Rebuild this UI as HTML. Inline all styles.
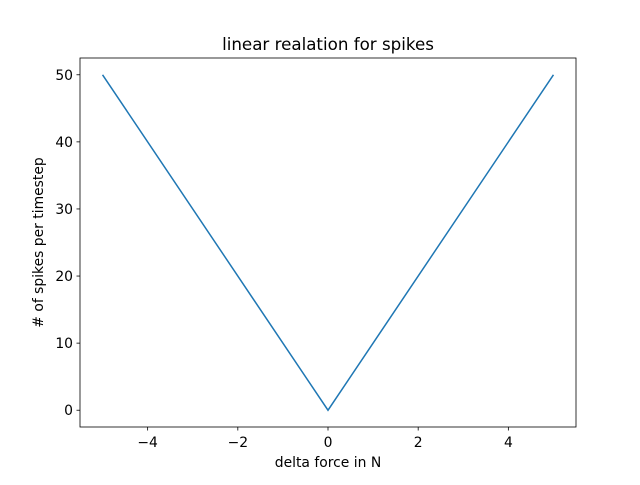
<!DOCTYPE html>
<html><head><meta charset="utf-8"><style>
body{margin:0;background:#fff;}
svg text{font-family:"DejaVu Sans","Liberation Sans",sans-serif;fill:#000;}
</style></head><body>
<svg id="chart" width="640" height="480" xmlns="http://www.w3.org/2000/svg">
<rect width="640" height="480" fill="#fff"/>
<text x="328" y="50" font-size="16.7" text-anchor="middle">linear realation for spikes</text>
<g id="ticks"></g>
<polyline id="line" fill="none" stroke="#1f77b4" stroke-width="1.5"/>
<rect x="80" y="58" width="496" height="369" fill="none" stroke="#000" stroke-width="0.8"/>
<text x="328" y="467" font-size="13.9" text-anchor="middle">delta force in N</text>
<text transform="translate(43,242.5) rotate(-90)" font-size="13.9" text-anchor="middle"># of spikes per timestep</text>
</svg>
<script>
const xs = [-5, 0, 5];
const ys = [50, 0, 50];
const xTicks = [-4, -2, 0, 2, 4];
const yTicks = [0, 10, 20, 30, 40, 50];
const X0=80, X1=576, Y0=427, Y1=58;
const xmin=-5.5, xmax=5.5, ymin=-2.5, ymax=52.5;
function sx(v){return X0+(v-xmin)/(xmax-xmin)*(X1-X0);}
function sy(v){return Y0-(v-ymin)/(ymax-ymin)*(Y0-Y1);}
const NS="http://www.w3.org/2000/svg";
const line=document.getElementById('line');
line.setAttribute('points', xs.map((x,i)=>sx(x)+','+sy(ys[i])).join(' '));
const g=document.getElementById('ticks');
xTicks.forEach(t=>{
  const l=document.createElementNS(NS,'line');
  l.setAttribute('x1',sx(t));l.setAttribute('x2',sx(t));l.setAttribute('y1',Y0);l.setAttribute('y2',Y0+3.5);
  l.setAttribute('stroke','#000');l.setAttribute('stroke-width','0.8');
  
  
  g.appendChild(l);
  const tx=document.createElementNS(NS,'text');
  tx.setAttribute('x',sx(t));tx.setAttribute('y',Y0+20);tx.setAttribute('font-size','13.9');tx.setAttribute('text-anchor','middle');
  tx.textContent=(t<0?'\u2212'+(-t):String(t));
  
  
  g.appendChild(tx);
});
yTicks.forEach(t=>{
  const l=document.createElementNS(NS,'line');
  l.setAttribute('x1',X0-3.5);l.setAttribute('x2',X0);l.setAttribute('y1',sy(t));l.setAttribute('y2',sy(t));
  l.setAttribute('stroke','#000');l.setAttribute('stroke-width','0.8');
  
  
  g.appendChild(l);
  const tx=document.createElementNS(NS,'text');
  tx.setAttribute('x',X0-7);tx.setAttribute('y',sy(t)+5);tx.setAttribute('font-size','13.9');tx.setAttribute('text-anchor','end');
  tx.textContent=String(t);
  
  
  g.appendChild(tx);
});
</script>
</body></html>
